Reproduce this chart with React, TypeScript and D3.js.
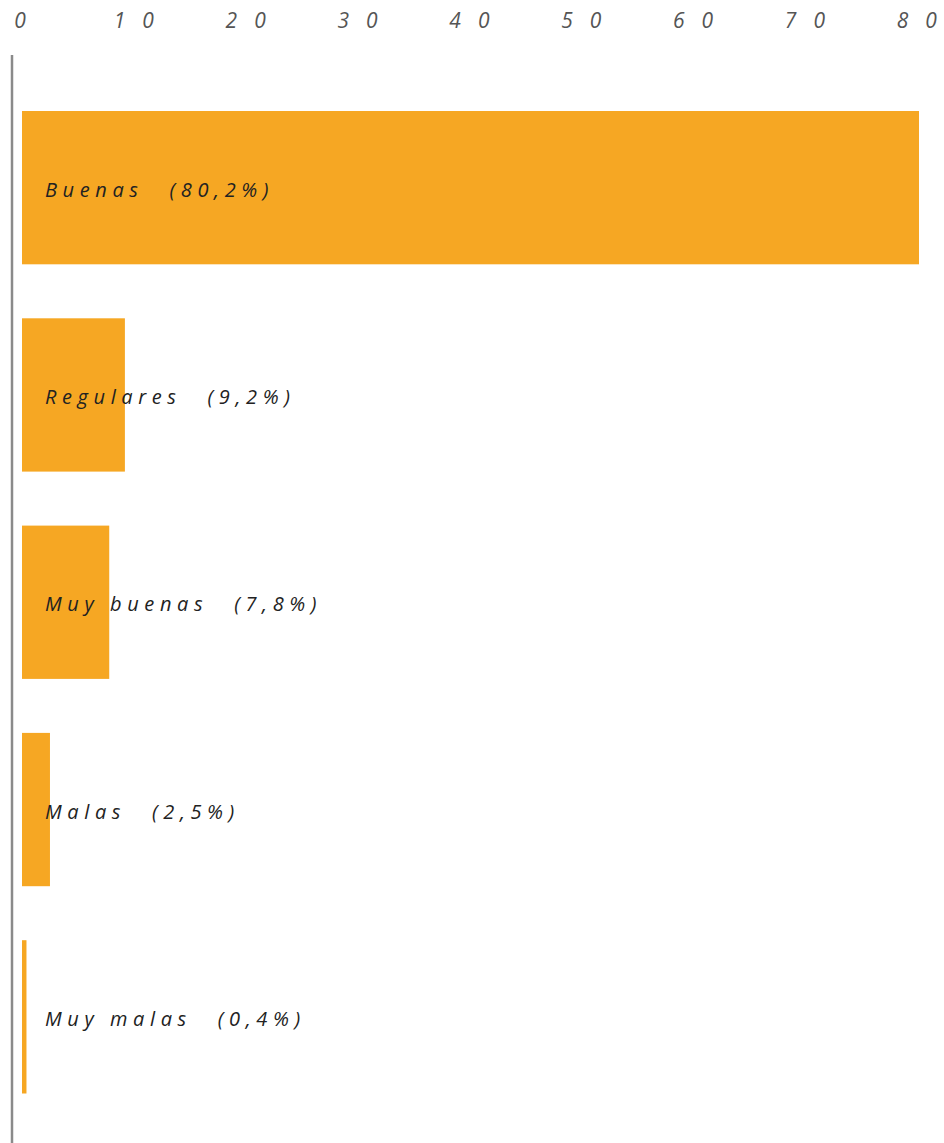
import React from "react";
import * as d3 from "d3";

const categories = ["Buenas", "Regulares", "Muy buenas", "Malas", "Muy malas"];
const values = [80.2, 9.2, 7.8, 2.5, 0.4];
const valueLabels = ["(80,2%)", "(9,2%)", "(7,8%)", "(2,5%)", "(0,4%)"];
const ticks = [0, 10, 20, 30, 40, 50, 60, 70, 80];

const W = 944;
const H = 1143;

export default function App() {
  const x = d3.scaleLinear().domain([0, 80.2]).range([22, 919]);
  const y = d3
    .scaleBand<string>()
    .domain(categories)
    .range([84, 1120.5])
    .paddingInner(54 / 207.3)
    .paddingOuter(27 / 207.3);
  const font = "'Open Sans', sans-serif";
  const tickGap = 17;
  return (
    <svg
      width={W}
      height={H}
      style={{ position: "absolute", left: 0, top: 0, background: "#fff" }}
    >
      {ticks.map((t) => {
        const chars = String(t).split("");
        return (
          <text
            key={t}
            x={x(t) - (t === 0 ? 2 : 0)}
            y={28}
            textAnchor="middle"
            fontFamily={font}
            fontStyle="italic"
            fontSize={21}
            fill="#555"
          >
            {chars.map((ch, k) => (
              <tspan key={k} dx={k === 0 ? 0 : tickGap}>
                {ch}
              </tspan>
            ))}
          </text>
        );
      })}
      <line x1={12} x2={12} y1={55} y2={H} stroke="#8a8a8a" strokeWidth={2.5} />
      {categories.map((c, i) => (
        <rect
          key={c}
          x={x(0)}
          y={y(c)}
          width={x(values[i]) - x(0)}
          height={y.bandwidth()}
          fill="#F6A723"
        />
      ))}
      {categories.map((c, i) => (
        <text
          key={"l" + c}
          x={x(0) + 23}
          y={(y(c) as number) + y.bandwidth() / 2 + 9}
          fontFamily={font}
          fontStyle="italic"
          fontSize={20}
          letterSpacing={5.6}
          fill="#222"
        >
          {c}
          <tspan dx={26}>{valueLabels[i]}</tspan>
        </text>
      ))}
    </svg>
  );
}
